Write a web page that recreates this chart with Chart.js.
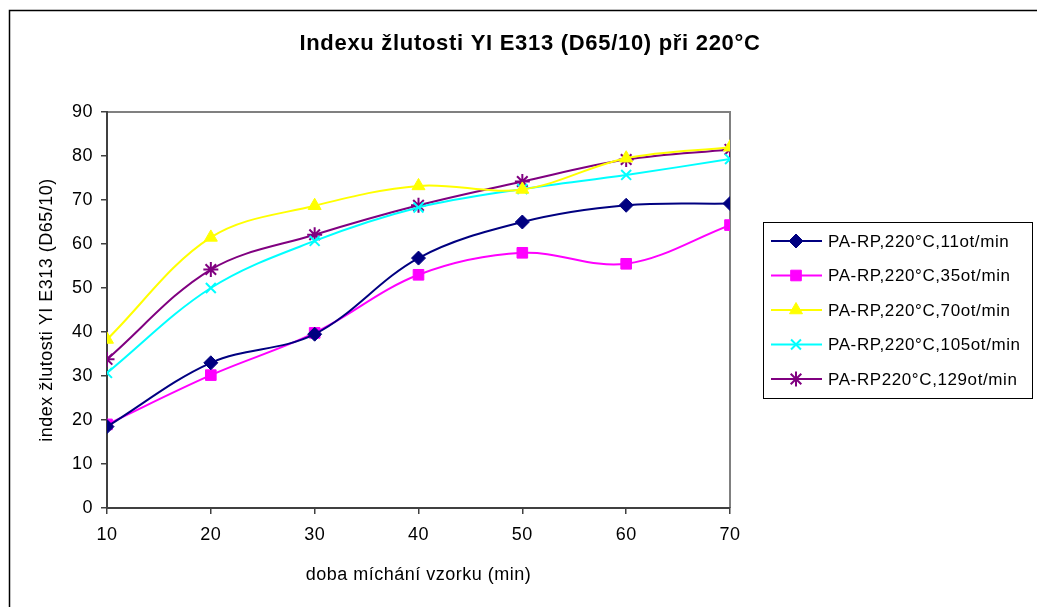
<!DOCTYPE html>
<html>
<head>
<meta charset="utf-8">
<script src="https://cdn.jsdelivr.net/npm/chart.js@4.4.0/dist/chart.umd.min.js"></script>
<style>
  html, body { margin: 0; padding: 0; background: #fff; }
  #wrap { width: 1037px; height: 607px; position: relative; }
</style>
</head>
<body>
<div id="wrap"><canvas id="line-chart" width="1037" height="607"></canvas></div>
<script>
// doba michani (min)
var times = [10, 20, 30, 40, 50, 60, 70];
var yTicks = [0, 10, 20, 30, 40, 50, 60, 70, 80, 90];

var s11 = [18.5, 33.0, 39.5, 56.8, 65.0, 68.8, 69.2];
var s35 = [19.0, 30.2, 39.8, 53.0, 58.0, 55.5, 64.3];
var s70 = [38.3, 61.5, 68.7, 73.2, 72.4, 79.5, 82.0];
var s105 = [30.7, 50.0, 60.7, 68.3, 72.5, 75.7, 79.3];
var s129 = [33.8, 54.2, 62.1, 68.8, 74.2, 79.2, 81.5];

var labels = ['PA-RP,220°C,11ot/min', 'PA-RP,220°C,35ot/min', 'PA-RP,220°C,70ot/min',
              'PA-RP,220°C,105ot/min', 'PA-RP220°C,129ot/min'];
var chartTitle = 'Indexu žlutosti YI E313 (D65/10) při 220°C';

function pts(arr) {
	return arr.map(function (v, i) { return { x: times[i], y: v }; });
}

function ds(i, arr, color, style, r) {
	return {
		label: labels[i],
		data: pts(arr),
		borderColor: color,
		backgroundColor: color,
		borderWidth: 2,
		pointStyle: style,
		pointRadius: r,
		pointHoverRadius: r,
		pointBorderWidth: (style == 'crossRot' || style == 'star') ? 2 : 1,
		tension: 0.35,
		fill: false
	};
}

var FONT = 'Liberation Sans, Arial, sans-serif';

// frame round the whole chart, plot area border, title, legend box
var extras = {
	id: 'extras',
	beforeLayout: function (chart) { chart.ctx.letterSpacing = '0.5px'; },
	beforeDraw: function (chart) {
		var c = chart.ctx;
		c.letterSpacing = '0.5px';
		c.save();
		c.strokeStyle = '#000';
		c.lineWidth = 1.5;
		c.beginPath();
		c.moveTo(9.5, 700);
		c.lineTo(9.5, 10.5);
		c.lineTo(1100, 10.5);
		c.stroke();
		var a = chart.chartArea;
		c.strokeStyle = '#808080';
		c.lineWidth = 2;
		c.beginPath();
		c.moveTo(a.left, a.top);
		c.lineTo(a.right, a.top);
		c.lineTo(a.right, a.bottom);
		c.stroke();

		c.letterSpacing = '0.7px';
		c.font = 'bold 22px ' + FONT;
		c.fillStyle = '#000';
		c.textAlign = 'center';
		c.textBaseline = 'middle';
		c.fillText(chartTitle, 530, 44);
		c.restore();
	},
	afterDraw: function (chart) {
		var c = chart.ctx;
		var bx = 763, by = 222, bw = 269, bh = 176;
		c.save();
		c.strokeStyle = '#000';
		c.lineWidth = 1;
		c.strokeRect(bx + 0.5, by + 0.5, bw, bh);
		c.letterSpacing = '0.6px';
		c.font = '17px ' + FONT;
		c.textBaseline = 'middle';
		c.textAlign = 'left';
		chart.data.datasets.forEach(function (d, i) {
			var y = 241 + i * 34.5;
			c.strokeStyle = d.borderColor;
			c.lineWidth = 2;
			c.beginPath();
			c.moveTo(771, y);
			c.lineTo(822, y);
			c.stroke();
			c.fillStyle = d.backgroundColor;
			c.lineWidth = d.pointBorderWidth;
			Chart.helpers.drawPoint(c, { pointStyle: d.pointStyle, radius: d.pointRadius, rotation: 0, borderWidth: d.pointBorderWidth }, 796, y);
			c.fillStyle = '#000';
			c.fillText(d.label, 828, y + 1);
		});
		c.restore();
	}
};

var chart = new Chart(document.getElementById('line-chart'), {
	type: 'line',
	data: {
		datasets: [
			ds(0, s11, '#000080', 'rectRot', 7),
			ds(1, s35, '#FF00FF', 'rect', 7.5),
			ds(2, s70, '#FFFF00', 'triangle', 7.5),
			ds(3, s105, '#00FFFF', 'crossRot', 7),
			ds(4, s129, '#800080', 'star', 7.5)
		]
	},
	options: {
		responsive: false,
		animation: false,
		layout: { padding: { left: 32, right: 307, top: 112, bottom: 17 } },
		plugins: {
			legend: { display: false },
			tooltip: { enabled: false },
			title: { display: false }
		},
		scales: {
			x: {
				type: 'linear',
				min: 10,
				max: 70,
				afterBuildTicks: function (s) { s.ticks = times.map(function (v) { return { value: v }; }); },
				afterFit: function (s) { s.height = 82; },
				grid: { drawOnChartArea: false, drawTicks: true, tickLength: 6, color: '#404040', lineWidth: 1.5 },
				border: { display: true, color: '#404040', width: 2 },
				ticks: { color: '#000', font: { family: FONT, size: 18 }, padding: 10, maxRotation: 0 },
				title: { display: true, text: 'doba míchání vzorku (min)', color: '#000', font: { family: FONT, size: 18 }, padding: { top: 4, bottom: 4 } }
			},
			y: {
				min: 0,
				max: 90,
				afterBuildTicks: function (s) { s.ticks = yTicks.map(function (v) { return { value: v }; }); },
				afterFit: function (s) { s.width = 75; },
				grid: { drawOnChartArea: false, drawTicks: true, tickLength: 6, color: '#404040', lineWidth: 1.5 },
				border: { display: true, color: '#404040', width: 2 },
				ticks: { color: '#000', font: { family: FONT, size: 18 }, padding: 8 },
				title: { display: true, text: 'index žlutosti YI E313 (D65/10)', color: '#000', font: { family: FONT, size: 18 }, padding: { top: 4, bottom: 4 } }
			}
		}
	},
	plugins: [extras]
});
</script>
</body>
</html>
